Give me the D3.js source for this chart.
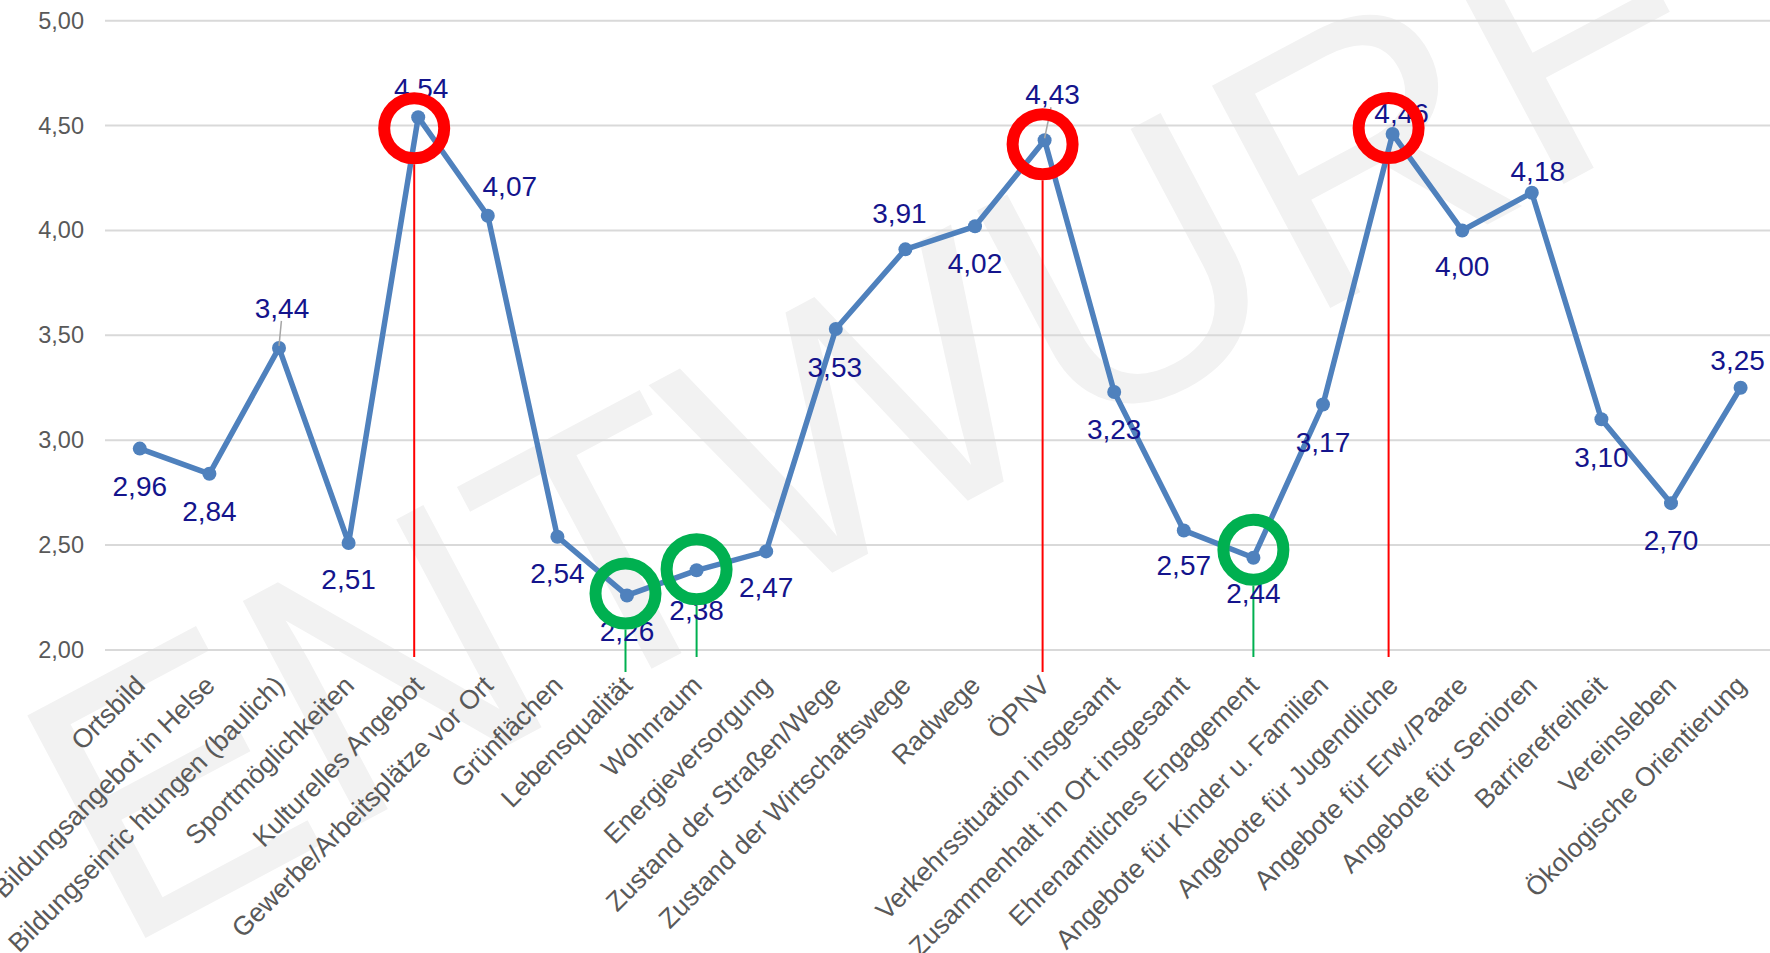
<!DOCTYPE html>
<html>
<head>
<meta charset="utf-8">
<script src="https://cdn.jsdelivr.net/npm/d3@7"></script>
<style>
  body { margin: 0; background: #fff; }
  svg { display: block; font-family: "Liberation Sans", Arial, sans-serif; }
</style>
</head>
<body>
<svg id="chart"></svg>
<script>
// Categories (x axis) and mean ratings
const categories = [
  "Ortsbild", "Bildungsangebot in Helse", "Bildungseinric htungen (baulich)", "Sportmöglichkeiten",
  "Kulturelles Angebot", "Gewerbe/Arbeitsplätze vor Ort", "Grünflächen", "Lebensqualität",
  "Wohnraum", "Energieversorgung", "Zustand der Straßen/Wege", "Zustand der Wirtschaftswege",
  "Radwege", "ÖPNV", "Verkehrssituation insgesamt", "Zusammenhalt im Ort insgesamt",
  "Ehrenamtliches Engagement", "Angebote für Kinder u. Familien", "Angebote für Jugendliche",
  "Angebote für Erw./Paare", "Angebote für Senioren", "Barrierefreiheit", "Vereinsleben",
  "Ökologische Orientierung"
];
const values = [
  2.96, 2.84, 3.44, 2.51, 4.54, 4.07, 2.54, 2.26, 2.38, 2.47, 3.53, 3.91,
  4.02, 4.43, 3.23, 2.57, 2.44, 3.17, 4.46, 4.00, 4.18, 3.10, 2.70, 3.25
];
const yTicks = [2, 2.5, 3, 3.5, 4, 4.5, 5];

// highlighted categories (hand drawn rings in the original)
const redMarked = ["Kulturelles Angebot", "ÖPNV", "Angebote für Jugendliche"];
const greenMarked = ["Lebensqualität", "Wohnraum", "Ehrenamtliches Engagement"];

// label placement tweaks: [dx, dy] from the point, label centre
const labelOffsets = [
  [0, 38], [0, 37], [3, -40], [0, 36], [3, -29], [22, -30], [0, 36], [0, 36],
  [0, 40], [0, 36], [-1, 38], [-6, -36], [0, 37], [8, -46], [0, 37], [0, 35],
  [0, 35], [0, 38], [9, -21], [0, 36], [6, -22], [0, 38], [0, 37], [-3, -28]
];
const leaderLabels = ["Bildungseinric htungen (baulich)", "ÖPNV"];
// ring offsets from the point and length of the drop line below the axis
const ringOffsets = {
  "Kulturelles Angebot": [-4, 11, 7],
  "ÖPNV": [-2, 4, 22],
  "Angebote für Jugendliche": [-4, -6, 7],
  "Lebensqualität": [-1.5, -2, 22],
  "Wohnraum": [0, -1, 7],
  "Ehrenamtliches Engagement": [0, -8, 7]
};

const width = 1770, height = 953;
const margin = {left: 105, top: 20.7};
const step = 69.6;

const svg = d3.select('#chart')
    .attr('width', width)
    .attr('height', height);

const locale = d3.formatLocale({decimal: ',', thousands: '.', grouping: [3], currency: ['', '€']});
const fmt = locale.format('.2f');

const x = d3.scaleBand()
    .domain(categories)
    .range([margin.left, margin.left + step * categories.length]);
const y = d3.scaleLinear()
    .domain([2, 5])
    .range([650, margin.top]);
const cx = d => x(d) + x.bandwidth() / 2;

// watermark
svg.append('text')
    .attr('transform', 'translate(119,952) rotate(-28)')
    .attr('font-size', 366)
    .attr('fill', '#f2f2f2')
    .text('ENTWURF');

// grid
svg.append('g')
    .selectAll('line')
    .data(yTicks)
  .join('line')
    .attr('x1', margin.left)
    .attr('x2', width)
    .attr('y1', d => y(d))
    .attr('y2', d => y(d))
    .attr('stroke', '#d9d9d9')
    .attr('stroke-width', 2);

// y axis
const yAxis = svg.append('g')
    .attr('transform', `translate(84,0)`)
    .call(d3.axisLeft(y).tickValues(yTicks).tickSize(0).tickPadding(0).tickFormat(fmt));
yAxis.select('.domain').remove();
yAxis.selectAll('text')
    .attr('font-size', 23.5)
    .attr('fill', '#595959')
    .attr('font-family', '"Liberation Sans", Arial, sans-serif');

// x axis, rotated labels
const xAxis = svg.append('g')
    .attr('transform', `translate(0,${y(2)})`)
    .call(d3.axisBottom(x).tickSize(0));
xAxis.select('.domain').remove();
xAxis.selectAll('text')
    .attr('x', 0)
    .attr('y', 0)
    .attr('dy', 0)
    .attr('text-anchor', 'end')
    .attr('transform', 'translate(7,37) rotate(-45)')
    .attr('font-size', 26.5)
    .attr('fill', '#595959')
    .attr('font-family', '"Liberation Sans", Arial, sans-serif');

const data = categories.map((c, i) => ({cat: c, value: values[i], off: labelOffsets[i]}));

// annotation rings and drop lines
const marks = data.filter(d => redMarked.includes(d.cat) || greenMarked.includes(d.cat));
const markColor = d => redMarked.includes(d.cat) ? '#ff0000' : '#00b050';
const ringX = d => cx(d.cat) + ringOffsets[d.cat][0];
const ringY = d => y(d.value) + ringOffsets[d.cat][1];

svg.append('g')
    .selectAll('line')
    .data(marks)
  .join('line')
    .attr('x1', ringX)
    .attr('x2', ringX)
    .attr('y1', d => ringY(d) + 36)
    .attr('y2', d => y(2) + ringOffsets[d.cat][2])
    .attr('stroke', markColor)
    .attr('stroke-width', 2);

// series line
const line = d3.line()
    .x(d => cx(d.cat))
    .y(d => y(d.value));

svg.append('path')
    .datum(data)
    .attr('d', line)
    .attr('fill', 'none')
    .attr('stroke', '#4f81bd')
    .attr('stroke-width', 5.5)
    .attr('stroke-linejoin', 'round');

svg.append('g')
    .selectAll('circle')
    .data(data)
  .join('circle')
    .attr('cx', d => cx(d.cat))
    .attr('cy', d => y(d.value))
    .attr('r', 7)
    .attr('fill', '#4f81bd');

// leader lines
svg.append('g')
    .selectAll('line')
    .data(data.filter(d => leaderLabels.includes(d.cat)))
  .join('line')
    .attr('x1', d => cx(d.cat) + d.off[0] * 0.8)
    .attr('y1', d => y(d.value) + d.off[1] + 13)
    .attr('x2', d => cx(d.cat))
    .attr('y2', d => y(d.value) - 2)
    .attr('stroke', '#a6a6a6')
    .attr('stroke-width', 1.5);

// data labels
svg.append('g')
    .selectAll('text')
    .data(data)
  .join('text')
    .attr('x', d => cx(d.cat) + d.off[0])
    .attr('y', d => y(d.value) + d.off[1])
    .attr('dy', '0.35em')
    .attr('text-anchor', 'middle')
    .attr('font-size', 28)
    .attr('fill', '#14148c')
    .text(d => fmt(d.value));

// rings on top
svg.append('g')
    .selectAll('circle')
    .data(marks)
  .join('circle')
    .attr('cx', ringX)
    .attr('cy', ringY)
    .attr('r', 30)
    .attr('fill', 'none')
    .attr('stroke', markColor)
    .attr('stroke-width', 12);
</script>
</body>
</html>
